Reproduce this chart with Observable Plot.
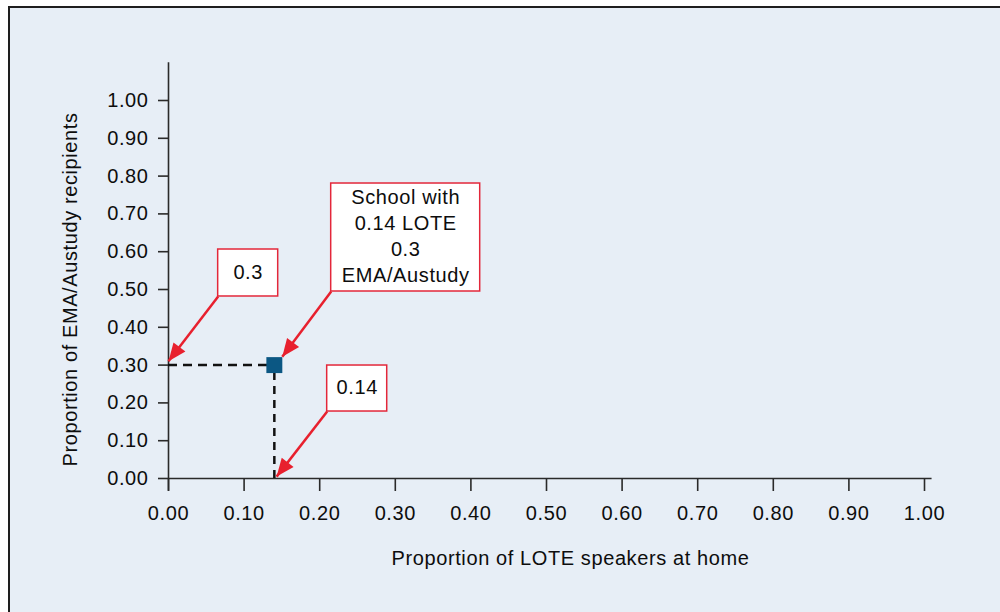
<!DOCTYPE html>
<html><head><meta charset="utf-8">
<script src="https://cdn.jsdelivr.net/npm/d3@7"></script>
<script src="https://cdn.jsdelivr.net/npm/@observablehq/plot@0.6"></script>
<style>
html,body{margin:0;padding:0;background:#fff;overflow:hidden;}
#wrap{position:relative;width:1000px;height:612px;overflow:hidden;}
#bg{position:absolute;left:8px;top:6px;width:1010px;height:620px;background:#e7eef6;border-top:2px solid #1e1e1e;border-left:2px solid #1e1e1e;}
#chart{position:absolute;left:0;top:0;}
#chart svg text{letter-spacing:0.6px;}
</style></head><body>
<div id="wrap"><div id="bg"></div><div id="chart"></div></div>
<script>
// ---- data ----
const xTicks = [0, 0.1, 0.2, 0.3, 0.4, 0.5, 0.6, 0.7, 0.8, 0.9, 1.0];
const yTicks = [0, 0.1, 0.2, 0.3, 0.4, 0.5, 0.6, 0.7, 0.8, 0.9, 1.0];
const schoolLOTE = [0.14];
const schoolEMA = [0.30];
const xLabel = "Proportion of LOTE speakers at home";
const yLabel = "Proportion of EMA/Austudy recipients";
const calloutTexts = ["0.3", "School with\n0.14 LOTE\n0.3\nEMA/Austudy", "0.14"];

// ---- build ----
const school = schoolLOTE.map((x, i) => ({x, y: schoolEMA[i]}));
const p = school[0];
// callout layout (box corners and arrow ends, in data units)
const callouts = [
  {text: calloutTexts[0], bx1: 0.0657, bx2: 0.1451, by1: 0.4815, by2: 0.6058, ex: 0, ey: p.y + 0.01},
  {text: calloutTexts[1], bx1: 0.2152, bx2: 0.4123, by1: 0.4947, by2: 0.7804, ex: p.x + 0.0105, ey: p.y + 0.022},
  {text: calloutTexts[2], bx1: 0.2099, bx2: 0.2893, by1: 0.1772, by2: 0.2989, ex: p.x + 0.003, ey: 0.005}
];

function filledArrow(color, context) {
  const ns = "http://www.w3.org/2000/svg";
  const doc = (context && context.document) || document;
  const m = doc.createElementNS(ns, "marker");
  m.setAttribute("viewBox", "-19 -9 20 18");
  m.setAttribute("markerWidth", 20);
  m.setAttribute("markerHeight", 18);
  m.setAttribute("markerUnits", "userSpaceOnUse");
  m.setAttribute("orient", "auto");
  m.setAttribute("refX", 0);
  m.setAttribute("refY", 0);
  const path = doc.createElementNS(ns, "path");
  path.setAttribute("d", "M0,0L-18,-7.5L-18,7.5Z");
  path.setAttribute("fill", color);
  path.setAttribute("stroke", "none");
  m.appendChild(path);
  return m;
}

const font = "'Liberation Sans', Arial, Helvetica, sans-serif";
const red = "#e8202e";
const axisColor = "#2a2a2a";
const ink = "#0d0d0d";

const chart = Plot.plot({
  width: 1000,
  height: 612,
  marginLeft: 168,
  marginRight: 76,
  marginTop: 100,
  marginBottom: 134,
  x: {domain: [0, 1]},
  y: {domain: [0, 1]},
  style: {background: "transparent", fontFamily: font, fontSize: "20px", color: ink},
  marks: [
    Plot.ruleX([0], {x: 0, y1: -0.034, y2: 1.1, stroke: axisColor, strokeWidth: 1.6}),
    Plot.ruleY([0], {y: 0, x1: 0, x2: 1.01, stroke: axisColor, strokeWidth: 1.6}),
    Plot.axisX(xTicks, {tickSize: 13, tickPadding: 14, tickFormat: d3.format(".2f"), label: null,
      stroke: axisColor, strokeWidth: 1.6, fill: ink, fontSize: 20}),
    Plot.axisY(yTicks, {tickSize: 10, tickPadding: 10, tickFormat: d3.format(".2f"), label: null,
      stroke: axisColor, strokeWidth: 1.6, fill: ink, fontSize: 20}),
    Plot.text([xLabel], {text: d => d, frameAnchor: "bottom", dx: 24, dy: 80, lineAnchor: "middle", fill: ink, fontSize: 20}),
    Plot.text([yLabel], {text: d => d, frameAnchor: "left", rotate: -90, dx: -98, lineAnchor: "middle", textAnchor: "middle", fill: ink, fontSize: 20}),
    Plot.ruleY(school, {y: "y", x1: 0, x2: "x", stroke: "#111", strokeWidth: 2.5, strokeDasharray: "9,6"}),
    Plot.ruleX(school, {x: "x", y1: 0, y2: "y", stroke: "#111", strokeWidth: 2.5, strokeDasharray: "8,6"}),
    Plot.dot(school, {x: "x", y: "y", symbol: "square", r: 9, fill: "#0b5783", stroke: "none"}),
    Plot.rect(callouts, {x1: "bx1", x2: "bx2", y1: "by1", y2: "by2", fill: "white", stroke: "#e3273a", strokeWidth: 1.5}),
    Plot.text(callouts, {x: d => (d.bx1 + d.bx2) / 2, y: d => (d.by1 + d.by2) / 2, dy: -2.5, text: "text", lineHeight: 1.3, fill: ink, fontSize: 20}),
    Plot.link(callouts, {x1: "bx1", y1: "by1", x2: "ex", y2: "ey", stroke: red, strokeWidth: 2.5, markerEnd: filledArrow})
  ]
});
document.getElementById("chart").appendChild(chart);
</script>
</body></html>
